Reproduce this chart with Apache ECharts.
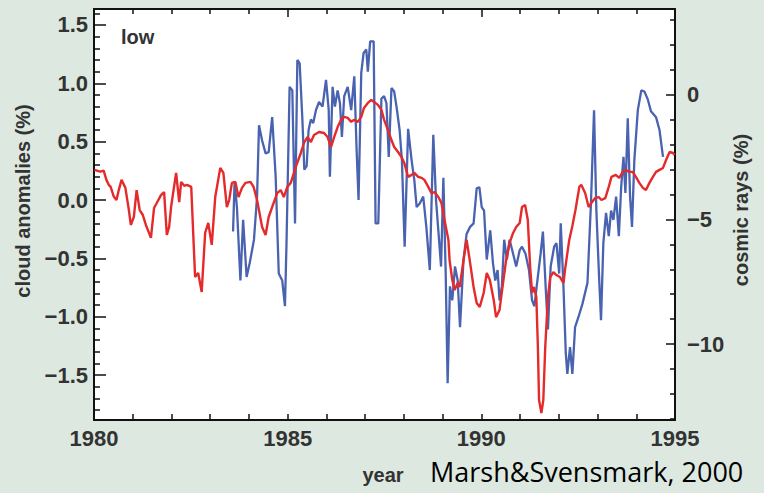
<!DOCTYPE html>
<html>
<head>
<meta charset="utf-8">
<script src="https://cdn.jsdelivr.net/npm/echarts@6/dist/echarts.min.js"></script>
<style>
html,body{margin:0;padding:0;background:#dde9e0;}
#chart{width:764px;height:493px;}
</style>
</head>
<body>
<div id="chart"></div>
<script>
// Cloud anomalies (%), left axis
const cloudYears = [1983.59,1983.63,1983.69,1983.78,1983.85,1983.94,1984.02,1984.13,1984.21,1984.26,1984.34,1984.43,1984.51,1984.60,1984.69,1984.77,1984.86,1984.93,1984.97,1985.05,1985.12,1985.19,1985.25,1985.31,1985.38,1985.43,1985.49,1985.54,1985.60,1985.66,1985.73,1985.81,1985.90,1985.99,1986.06,1986.09,1986.16,1986.22,1986.29,1986.35,1986.40,1986.46,1986.55,1986.64,1986.72,1986.78,1986.83,1986.90,1986.96,1987.03,1987.07,1987.13,1987.22,1987.27,1987.34,1987.42,1987.49,1987.55,1987.61,1987.68,1987.75,1987.81,1987.89,1987.95,1988.02,1988.11,1988.20,1988.27,1988.33,1988.41,1988.50,1988.58,1988.67,1988.76,1988.83,1988.89,1988.96,1989.02,1989.08,1989.13,1989.19,1989.25,1989.32,1989.39,1989.45,1989.54,1989.62,1989.71,1989.80,1989.88,1989.95,1990.01,1990.07,1990.14,1990.23,1990.30,1990.36,1990.42,1990.47,1990.53,1990.59,1990.66,1990.73,1990.82,1990.90,1990.99,1991.05,1991.14,1991.23,1991.31,1991.37,1991.44,1991.53,1991.59,1991.66,1991.72,1991.79,1991.88,1991.94,1992.01,1992.05,1992.12,1992.18,1992.22,1992.29,1992.35,1992.42,1992.51,1992.61,1992.74,1992.83,1992.91,1992.97,1993.04,1993.09,1993.15,1993.22,1993.29,1993.35,1993.41,1993.48,1993.55,1993.61,1993.67,1993.72,1993.78,1993.84,1993.89,1993.95,1994.04,1994.13,1994.21,1994.30,1994.38,1994.51,1994.60,1994.69];
const cloudValues = [-0.27,0.16,-0.06,-0.69,-0.17,-0.66,-0.54,-0.34,0.03,0.64,0.51,0.40,0.41,0.71,0.20,-0.63,-0.69,-0.91,-0.37,0.97,0.94,-0.20,1.20,1.17,0.69,0.26,0.29,0.60,0.69,0.66,0.77,0.84,0.80,1.03,0.77,0.20,0.97,0.80,0.94,0.83,0.54,0.89,0.97,0.77,1.06,0.43,0.00,1.09,1.26,1.29,1.10,1.36,1.36,-0.20,-0.20,0.87,0.89,0.83,0.37,0.96,0.93,0.80,0.60,0.34,-0.40,0.61,0.34,0.17,-0.06,-0.03,0.03,-0.23,-0.60,0.56,0.00,-0.26,-0.57,0.19,-0.63,-1.57,-0.74,-0.86,-0.57,-0.69,-1.09,-0.51,-0.29,-0.23,-0.20,0.10,0.11,-0.06,-0.09,-0.51,-0.26,-0.54,-0.69,-0.60,-0.86,-0.74,-0.34,-0.51,-0.34,-0.46,-0.57,-0.43,-0.40,-0.46,-0.60,-0.86,-0.91,-0.71,-0.46,-0.27,-0.74,-1.11,-0.57,-0.40,-0.37,-0.63,-0.20,-0.74,-1.31,-1.49,-1.26,-1.49,-1.09,-1.00,-0.89,-0.71,-0.03,0.77,-0.09,-0.66,-1.03,-0.37,-0.11,-0.31,-0.09,-0.17,0.03,-0.31,0.11,0.37,0.06,0.70,0.03,-0.23,0.34,0.77,0.94,0.93,0.86,0.76,0.71,0.60,0.37];

// Cosmic rays (%), right axis
const cosmicYears = [1980.01,1980.16,1980.25,1980.32,1980.38,1980.43,1980.51,1980.58,1980.64,1980.71,1980.81,1980.90,1980.95,1981.03,1981.10,1981.18,1981.26,1981.34,1981.42,1981.47,1981.55,1981.62,1981.73,1981.81,1981.88,1981.94,1981.99,1982.12,1982.20,1982.25,1982.33,1982.40,1982.51,1982.61,1982.69,1982.78,1982.87,1982.95,1983.04,1983.13,1983.26,1983.34,1983.43,1983.49,1983.56,1983.65,1983.73,1983.82,1983.91,1984.04,1984.12,1984.21,1984.34,1984.43,1984.51,1984.60,1984.73,1984.82,1984.90,1984.99,1985.08,1985.21,1985.34,1985.42,1985.51,1985.60,1985.68,1985.81,1985.94,1986.03,1986.12,1986.20,1986.29,1986.38,1986.46,1986.55,1986.64,1986.71,1986.81,1986.90,1986.97,1987.07,1987.16,1987.23,1987.33,1987.42,1987.49,1987.59,1987.68,1987.75,1987.85,1987.94,1988.01,1988.11,1988.20,1988.27,1988.37,1988.46,1988.53,1988.63,1988.71,1988.79,1988.89,1988.97,1989.05,1989.15,1989.18,1989.25,1989.31,1989.39,1989.44,1989.54,1989.62,1989.70,1989.80,1989.88,1989.96,1990.06,1990.14,1990.22,1990.32,1990.38,1990.47,1990.56,1990.64,1990.73,1990.82,1990.90,1990.99,1991.05,1991.13,1991.20,1991.26,1991.31,1991.36,1991.42,1991.46,1991.49,1991.55,1991.60,1991.65,1991.72,1991.78,1991.86,1991.94,1992.03,1992.12,1992.17,1992.27,1992.35,1992.43,1992.53,1992.58,1992.68,1992.77,1992.84,1992.94,1993.03,1993.10,1993.20,1993.29,1993.36,1993.47,1993.56,1993.65,1993.73,1993.82,1993.91,1993.99,1994.08,1994.17,1994.25,1994.34,1994.43,1994.51,1994.60,1994.69,1994.77,1994.86,1994.95,1994.99];
const cosmicValues = [-3.01,-3.08,-3.04,-3.41,-3.61,-3.69,-4.08,-4.22,-3.82,-3.41,-3.73,-4.62,-5.22,-4.89,-3.82,-4.62,-4.82,-5.22,-5.54,-5.74,-4.54,-4.34,-4.02,-3.90,-5.62,-5.30,-4.50,-3.13,-4.30,-3.49,-3.65,-3.61,-3.69,-7.31,-7.15,-7.91,-5.54,-5.14,-6.02,-4.10,-2.93,-3.13,-4.50,-4.22,-3.53,-3.49,-4.10,-3.73,-3.53,-3.49,-3.69,-4.22,-5.30,-5.62,-4.90,-4.50,-3.94,-3.82,-4.10,-3.69,-3.53,-2.89,-2.33,-1.93,-1.69,-1.89,-1.61,-1.49,-1.53,-1.69,-2.09,-1.69,-1.29,-1.00,-0.88,-0.92,-1.08,-1.00,-1.08,-0.88,-0.52,-0.32,-0.20,-0.28,-0.40,-0.60,-1.00,-1.41,-1.81,-2.09,-2.29,-2.49,-2.73,-3.29,-3.21,-3.13,-3.29,-3.33,-3.41,-3.69,-3.94,-3.90,-4.10,-4.34,-5.02,-5.82,-6.63,-7.43,-7.83,-7.55,-7.71,-6.63,-5.82,-6.63,-7.71,-8.35,-8.51,-7.95,-7.15,-7.43,-8.23,-8.92,-8.63,-7.55,-6.63,-5.94,-5.54,-5.30,-5.14,-4.50,-4.42,-5.02,-6.91,-7.95,-7.71,-8.11,-10.12,-12.25,-12.77,-12.25,-10.12,-8.11,-7.31,-7.11,-7.23,-7.31,-7.55,-6.91,-5.82,-5.26,-4.62,-3.69,-3.61,-3.94,-4.50,-4.34,-4.14,-4.10,-4.22,-4.14,-3.69,-3.29,-3.21,-3.33,-3.09,-3.01,-3.09,-3.09,-3.29,-3.53,-3.73,-3.82,-3.53,-3.29,-3.09,-3.01,-2.93,-2.61,-2.29,-2.33,-2.41];

// Axis ticks
const leftTicks = [-1.5,-1.0,-0.5,0.0,0.5,1.0,1.5];
const leftMinorTicks = [-1.8,-1.7,-1.6,-1.4,-1.3,-1.2,-1.1,-0.9,-0.8,-0.7,-0.6,-0.4,-0.3,-0.2,-0.1,0.1,0.2,0.3,0.4,0.6,0.7,0.8,0.9,1.1,1.2,1.3,1.4,1.6];
const rightTicks = [-10,-5,0];
const rightMinorTicks = [-13,-12,-11,-9,-8,-7,-6,-4,-3,-2,-1,1,2,3];

const FONT = "'Liberation Sans', Arial, Helvetica, sans-serif";
const TXT = '#333333';
const fmtMinus = (v, d) => {
  const s = Math.abs(v).toFixed(d);
  return (v < 0 && Math.abs(v) > 1e-9 ? '\u2212' : '') + s;
};

const chart = echarts.init(document.getElementById('chart'), null, {renderer: 'svg'});
const blackLine = {show: true, onZero: false, lineStyle: {color: '#111', width: 2}};
const labelStyle = {color: TXT, fontFamily: FONT, fontSize: 22, fontWeight: 'bold', lineHeight: 22};

const option = {
  animation: false,
  backgroundColor: '#dde9e0',
  grid: {left: 94, right: 89, top: 9, bottom: 73, show: true, backgroundColor: '#ffffff', borderWidth: 0, outerBoundsMode: 'none'},
  xAxis: [
    {type: 'value', min: 1980, max: 1995, interval: 5, position: 'bottom',
     axisLine: blackLine,
     axisTick: {show: true, inside: true, length: 6, lineStyle: {color: '#111', width: 1.5}},
     minorTick: {show: true, splitNumber: 5, length: 6, lineStyle: {color: '#111', width: 1.5}},
     axisLabel: Object.assign({margin: 7, formatter: v => String(v)}, labelStyle),
     splitLine: {show: false}},
    {type: 'value', min: 1980, max: 1995, interval: 5, position: 'top',
     axisLine: blackLine,
     axisTick: {show: true, inside: true, length: 8, lineStyle: {color: '#111', width: 1.5}},
     minorTick: {show: true, splitNumber: 5, length: 5, lineStyle: {color: '#111', width: 1.5}},
     axisLabel: {show: false}, splitLine: {show: false}}
  ],
  yAxis: [
    {type: 'value', min: -1.885, max: 1.637, position: 'left',
     axisLine: blackLine,
     axisTick: {show: true, inside: true, length: 12, customValues: leftTicks, lineStyle: {color: '#111', width: 1.5}},
     axisLabel: Object.assign({margin: 6, customValues: leftTicks, formatter: v => fmtMinus(v, 1)}, labelStyle),
     splitLine: {show: false}},
    {type: 'value', min: -1.885, max: 1.637, position: 'left',
     axisLine: {show: false, onZero: false},
     axisTick: {show: true, inside: true, length: 6, customValues: leftMinorTicks, lineStyle: {color: '#111', width: 1.5}},
     axisLabel: {show: false}, splitLine: {show: false}},
    {type: 'value', min: -13.05, max: 3.45, position: 'right',
     axisLine: blackLine,
     axisTick: {show: true, inside: true, length: 9, customValues: rightTicks, lineStyle: {color: '#111', width: 1.5}},
     axisLabel: Object.assign({margin: 12, customValues: rightTicks, formatter: v => fmtMinus(v, 0)}, labelStyle),
     splitLine: {show: false}},
    {type: 'value', min: -13.05, max: 3.45, position: 'right',
     axisLine: {show: false, onZero: false},
     axisTick: {show: true, inside: true, length: 5, customValues: rightMinorTicks, lineStyle: {color: '#111', width: 1.5}},
     axisLabel: {show: false}, splitLine: {show: false}}
  ],
  series: [
    {name: 'cloud', type: 'line', xAxisIndex: 0, yAxisIndex: 0, showSymbol: false, symbol: 'none',
     lineStyle: {color: '#4a63b0', width: 2.3}, z: 2,
     data: cloudYears.map((y, i) => [y, cloudValues[i]])},
    {name: 'cosmic', type: 'line', xAxisIndex: 0, yAxisIndex: 2, showSymbol: false, symbol: 'none',
     lineStyle: {color: '#e52a2c', width: 2.4}, z: 3,
     data: cosmicYears.map((y, i) => [y, cosmicValues[i]])}
  ],
  graphic: [
    {type: 'text', left: 121, top: 27, style: {text: 'low', fill: TXT, font: "bold 20px " + FONT}},
    {type: 'text', x: 23, y: 201, rotation: Math.PI / 2,
     style: {text: 'cloud anomalies (%)', fill: TXT, font: "bold 20px " + FONT, align: 'center', verticalAlign: 'middle'}},
    {type: 'text', x: 741, y: 210, rotation: Math.PI / 2,
     style: {text: 'cosmic rays (%)', fill: TXT, font: "bold 20px " + FONT, align: 'center', verticalAlign: 'middle'}},
    {type: 'text', x: 383, y: 475,
     style: {text: 'year', fill: TXT, font: "bold 20px " + FONT, align: 'center', verticalAlign: 'middle', lineHeight: 20}},
    {type: 'text', x: 430, y: 471,
     style: {text: 'Marsh&Svensmark, 2000', fill: '#000', font: "27px 'Open Sans', 'Noto Sans', sans-serif", align: 'left', verticalAlign: 'middle', lineHeight: 22}}
  ]
};
chart.setOption(option);
</script>
</body>
</html>
